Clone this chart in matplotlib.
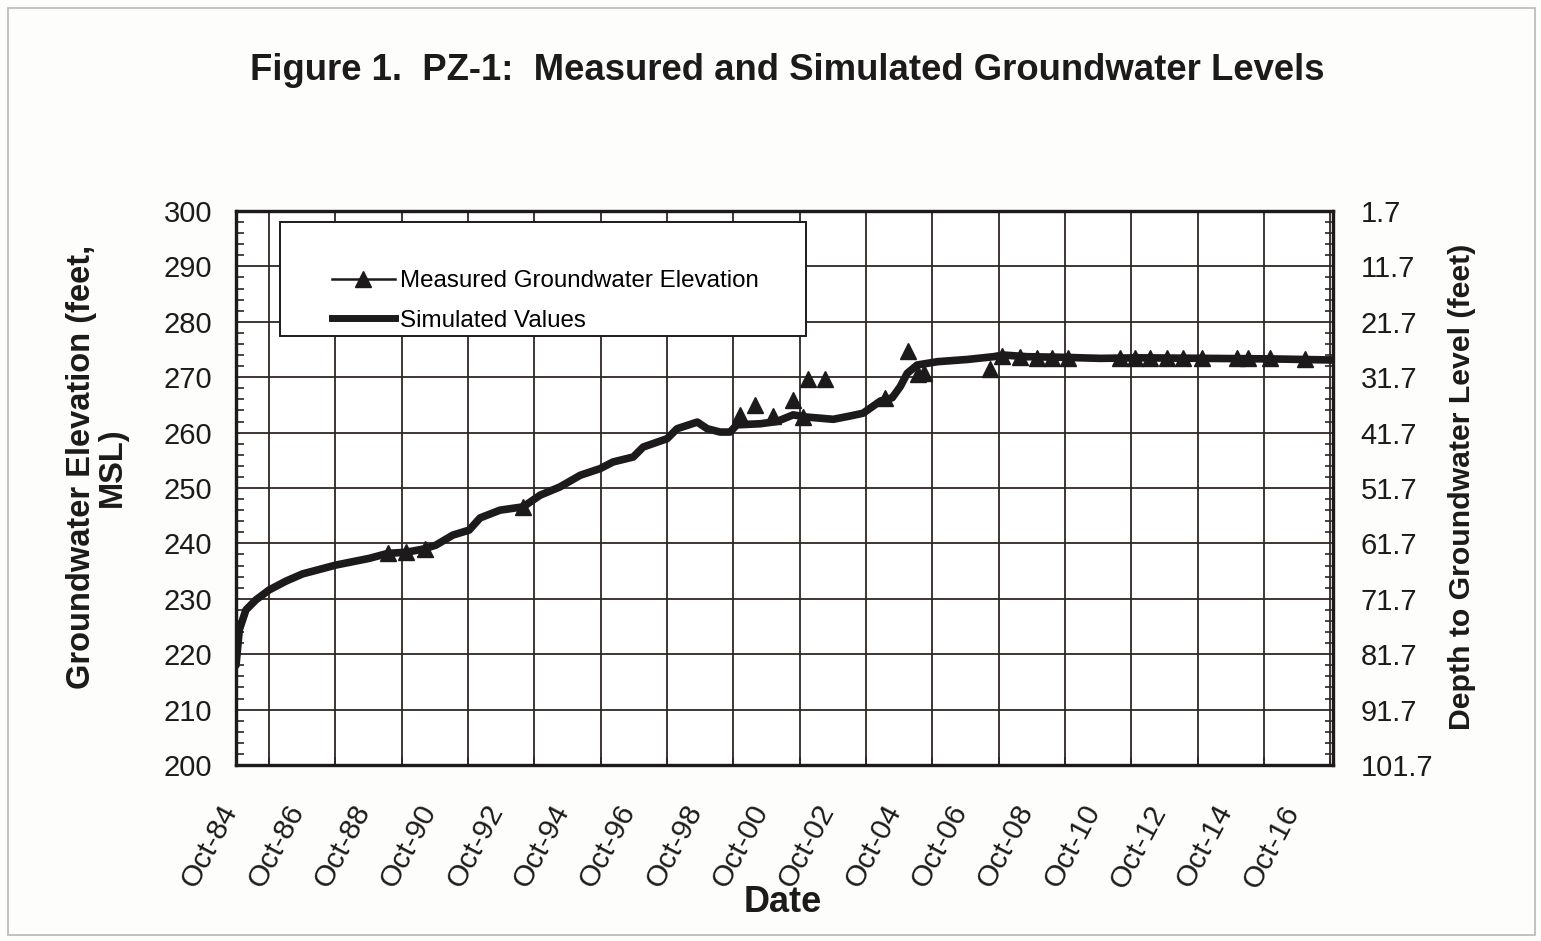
"""
PZ-1 groundwater levels: measured vs simulated, with depth on the right axis.
"""

import numpy as np
import matplotlib
matplotlib.use("Agg")
import matplotlib.pyplot as plt
import matplotlib.transforms as mtransforms
from matplotlib.lines import Line2D
from matplotlib.patches import Rectangle

plt.rcParams['font.family'] = ['Liberation Sans', 'DejaVu Sans']

# Simulated groundwater elevation (decimal year, feet MSL)
sim_year = [1984.75, 1984.85, 1985.05, 1985.35, 1985.75, 1986.26, 1986.76,
            1987.77, 1988.77, 1989.33, 1989.88, 1990.42, 1990.78, 1991.29,
            1991.78, 1992.11, 1992.71, 1993.41, 1993.92, 1994.52, 1995.13,
            1995.73, 1996.12, 1996.73, 1997.03, 1997.75, 1998.05, 1998.66,
            1998.96, 1999.35, 1999.65, 1999.85, 2000.56, 2001.06, 2001.55,
            2001.97, 2002.76, 2003.27, 2003.66, 2004.18, 2004.54, 2004.78,
            2004.99, 2005.29, 2005.90, 2006.80, 2007.59, 2007.89, 2008.61,
            2009.61, 2010.81, 2012.00, 2014.00, 2016.00, 2017.83]
sim_elev = [218.0, 224.4, 228.0, 229.8, 231.6, 233.2, 234.5,
            236.1, 237.3, 238.2, 238.4, 239.0, 239.7, 241.5,
            242.4, 244.6, 246.0, 246.6, 248.7, 250.2, 252.3,
            253.5, 254.7, 255.6, 257.4, 258.9, 260.7, 261.9,
            260.7, 260.1, 260.1, 261.4, 261.6, 262.0, 263.2,
            262.8, 262.4, 263.0, 263.5, 265.7, 266.3, 268.3,
            270.7, 272.2, 272.8, 273.2, 273.7, 274.0, 273.7,
            273.6, 273.4, 273.5, 273.4, 273.3, 273.1]

# Measured groundwater elevation (decimal year, feet MSL)
meas_year = [1989.33, 1989.88, 1990.45, 1993.41, 1999.94, 2000.40, 2000.94,
             2001.55, 2001.85, 2002.00, 2002.52, 2004.33, 2005.02, 2005.32,
             2005.50, 2007.50, 2007.86, 2008.40, 2008.91, 2009.37, 2009.85,
             2011.42, 2011.87, 2012.32, 2012.83, 2013.32, 2013.89, 2014.95,
             2015.28, 2015.94, 2016.99]
meas_elev = [238.2, 238.4, 239.0, 246.6, 263.2, 265.0, 263.0,
             265.9, 262.8, 269.7, 269.7, 266.2, 274.7, 270.6,
             270.8, 271.4, 273.8, 273.6, 273.5, 273.4, 273.4,
             273.4, 273.4, 273.4, 273.4, 273.4, 273.4, 273.4,
             273.4, 273.4, 273.3]

tick_years = list(range(1984, 2017, 2))
tick_labels = [f"Oct-{y % 100:02d}" for y in tick_years]
ground_surface = 301.7  # depth = ground_surface - elevation

x_min, x_max = 1984.75, 2017.83
ink = '#1c1a1a'
grid_col = '#2e2623'

fig = plt.figure(figsize=(15.41, 9.41), dpi=100, facecolor='#fdfdfb')
ax = fig.add_axes([236 / 1541, 1 - 765 / 941, 1097 / 1541, 554 / 941])

# measured first, so the simulated line sits on top of markers lying on it
ax.plot(meas_year, meas_elev, linestyle='none', marker='^', markersize=12,
        color=ink, zorder=3)
ax.plot(sim_year, sim_elev, color=ink, linewidth=5.5, solid_capstyle='round',
        solid_joinstyle='round', zorder=4)

ax.set_xlim(x_min, x_max)
ax.set_ylim(200, 300)

# grid: every year vertically, every 10 ft horizontally
ax.set_xticks([y + 0.75 for y in tick_years])
ax.set_xticks(np.arange(x_min, x_max, 1.0), minor=True)
ax.set_xticklabels(tick_labels, rotation=62, ha='right', va='center',
                   rotation_mode='anchor', fontsize=21.5, color=ink)
ax.set_yticks(np.arange(200, 301, 10))
ax.set_yticks(np.arange(200, 301, 2), minor=True)
ax.tick_params(axis='y', labelsize=21, labelcolor=ink, pad=17, length=0)
ax.tick_params(axis='y', which='minor', direction='in', length=6, width=1.2,
               color=grid_col)
ax.tick_params(axis='x', which='major', length=0, pad=30)
ax.tick_params(axis='x', which='minor', direction='in', length=6, width=1.2,
               color=grid_col)
ax.grid(True, which='minor', axis='x', color=grid_col, linewidth=1.3)
ax.grid(True, which='major', axis='y', color=grid_col, linewidth=1.3)
ax.set_axisbelow(True)

shift = mtransforms.ScaledTranslation(-5 / 100, 0, fig.dpi_scale_trans)
for lab in ax.get_xticklabels():
    lab.set_transform(lab.get_transform() + shift)

for sp in ax.spines.values():
    sp.set_linewidth(2.3)
    sp.set_color(ink)

# right axis: depth to groundwater
ax2 = ax.twinx()
ax2.set_ylim(ground_surface - 200, ground_surface - 300)
depth_ticks = np.arange(ground_surface - 300, ground_surface - 199, 10)
ax2.set_yticks(depth_ticks)
ax2.set_yticks(np.arange(ground_surface - 300, ground_surface - 199, 2), minor=True)
ax2.set_yticklabels([f"{v:.1f}" for v in depth_ticks])
ax2.tick_params(axis='y', labelsize=21, labelcolor=ink, pad=20, length=0)
ax2.tick_params(axis='y', which='minor', direction='in', length=6, width=1.2,
                color=grid_col)
for sp in ax2.spines.values():
    sp.set_linewidth(2.3)
    sp.set_color(ink)

# legend box drawn by hand, entries placed inside it
ax.add_patch(Rectangle((0.0401, 0.774), 0.4795, 0.206, transform=ax.transAxes,
                       facecolor='white', edgecolor=ink, linewidth=1.4,
                       zorder=6))
handles = [Line2D([], [], color=ink, linewidth=1.8, marker='^', markersize=12),
           Line2D([], [], color=ink, linewidth=5)]
ax.legend(handles, ['Measured Groundwater Elevation', 'Simulated Values'],
          loc='upper left', bbox_to_anchor=(0.0875, 0.893), frameon=False,
          fontsize=17.4, handlelength=2.6, handletextpad=0.2, labelspacing=0.72,
          borderpad=0, borderaxespad=0).set_zorder(7)

fig.text(0.511, 1 - 71 / 941, 'Figure 1.  PZ-1:  Measured and Simulated Groundwater Levels',
         ha='center', va='center', fontsize=26.3, fontweight='bold', color=ink)
fig.text(97 / 1541, 1 - 467 / 941, 'Groundwater Elevation (feet,\nMSL)',
         rotation=90, ha='center', va='center', fontsize=23.5, fontweight='bold',
         color=ink, multialignment='center', linespacing=1.0)
fig.text(1462 / 1541, 1 - 487 / 941, 'Depth to Groundwater Level (feet)',
         rotation=90, ha='center', va='center', fontsize=21.8, fontweight='bold',
         color=ink)
fig.text(783 / 1541, 1 - 903 / 941, 'Date', ha='center', va='center',
         fontsize=26, fontweight='bold', color=ink)

# thin page frame around the figure
fig.patches.append(Rectangle((0.005, 0.006), 0.991, 0.986, transform=fig.transFigure,
                             fill=False, edgecolor='#b8b8b8', linewidth=1.2))

fig.savefig('out.png', dpi=100, facecolor=fig.get_facecolor())
